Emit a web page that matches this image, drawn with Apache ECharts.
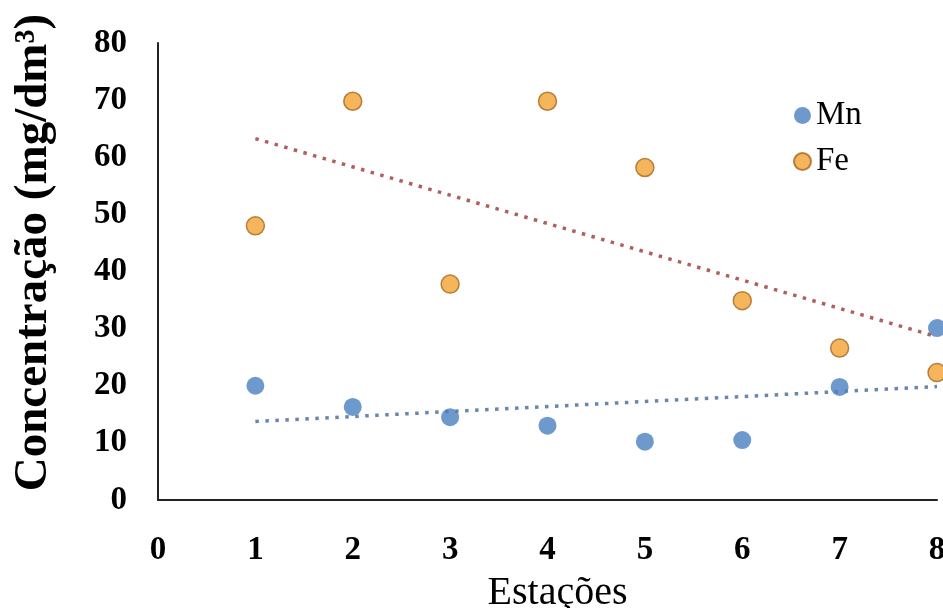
<!DOCTYPE html>
<html>
<head>
<meta charset="utf-8">
<title>Concentração de Mn e Fe por estação</title>
<script src="https://cdn.jsdelivr.net/npm/echarts@6/dist/echarts.min.js"></script>
<style>
  html, body { margin: 0; padding: 0; background: #ffffff; }
  #chart { width: 943px; height: 608px; }
</style>
</head>
<body>
<div id="chart"></div>
<script>
// Stations (x) and measured concentrations (mg/dm³)
const stations = [1, 2, 3, 4, 5, 6, 7, 8];
const mnValues = [20.0, 16.3, 14.5, 13.0, 10.2, 10.5, 19.8, 30.1];
const feValues = [48.0, 69.8, 37.8, 69.8, 58.2, 34.9, 26.6, 22.3];
const seriesNames = ['Mn', 'Fe'];
const xAxisTitle = 'Estações';
const yAxisTitle = 'Concentração (mg/dm³)';

// Least-squares linear trend, evaluated at the first and last station
function linearTrend(xs, ys) {
  const n = xs.length;
  const mx = xs.reduce((a, b) => a + b, 0) / n;
  const my = ys.reduce((a, b) => a + b, 0) / n;
  let sxy = 0, sxx = 0;
  for (let i = 0; i < n; i++) {
    sxy += (xs[i] - mx) * (ys[i] - my);
    sxx += (xs[i] - mx) * (xs[i] - mx);
  }
  const slope = sxy / sxx;
  const x0 = xs[0], x1 = xs[n - 1];
  return [[x0, my + slope * (x0 - mx)], [x1, my + slope * (x1 - mx)]];
}

const pairs = (xs, ys) => xs.map((x, i) => [x, ys[i]]);

const serif = 'Liberation Serif, Times New Roman, serif';
const chart = echarts.init(document.getElementById('chart'), null, { renderer: 'canvas' });

chart.setOption({
  backgroundColor: '#ffffff',
  animation: false,
  grid: { left: 158, right: 6, top: 43, bottom: 108, outerBoundsMode: 'none' },
  legend: {
    data: seriesNames,
    orient: 'vertical',
    left: 788,
    top: 94,
    itemWidth: 17,
    itemHeight: 17,
    itemGap: 13,
    icon: 'circle',
    textStyle: { fontFamily: serif, fontSize: 33, color: '#000' }
  },
  xAxis: {
    type: 'value',
    min: 0,
    max: 8,
    interval: 1,
    name: xAxisTitle,
    nameLocation: 'middle',
    nameGap: 73,
    nameTextStyle: { fontFamily: serif, fontSize: 40, color: '#000', padding: [0, 0, 0, 20] },
    axisLine: { show: true, lineStyle: { color: '#222', width: 2 } },
    axisTick: { show: false },
    splitLine: { show: false },
    axisLabel: {
      fontFamily: serif, fontSize: 33, fontWeight: 'bold', color: '#000',
      margin: 34, showMaxLabel: true, showMinLabel: true
    }
  },
  yAxis: {
    type: 'value',
    min: 0,
    max: 80,
    interval: 10,
    name: yAxisTitle,
    nameLocation: 'middle',
    nameGap: 101,
    nameRotate: 90,
    nameTextStyle: {
      fontFamily: serif, fontSize: 47, fontWeight: 'bold', color: '#000',
      padding: [0, 0, 0, 38]
    },
    axisLine: { show: true, lineStyle: { color: '#222', width: 2 } },
    axisTick: { show: false },
    splitLine: { show: false },
    axisLabel: { fontFamily: serif, fontSize: 33, fontWeight: 'bold', color: '#000', margin: 31 }
  },
  series: [
    {
      name: seriesNames[0],
      type: 'scatter',
      symbol: 'circle',
      symbolSize: 18,
      itemStyle: { color: '#4a7fc1' },
      data: pairs(stations, mnValues),
      z: 3
    },
    {
      name: seriesNames[1],
      type: 'scatter',
      symbol: 'circle',
      symbolSize: 18,
      itemStyle: { color: '#f3a332', borderColor: '#a8651f', borderWidth: 1.5 },
      data: pairs(stations, feValues),
      z: 3
    },
    {
      name: 'Mn trend',
      type: 'line',
      data: linearTrend(stations, mnValues),
      showSymbol: false,
      symbol: 'none',
      silent: true,
      lineStyle: { color: '#6a87aa', width: 3.5, type: [3.5, 6.5] },
      z: 2
    },
    {
      name: 'Fe trend',
      type: 'line',
      data: linearTrend(stations, feValues),
      showSymbol: false,
      symbol: 'none',
      silent: true,
      lineStyle: { color: '#b0605c', width: 3.5, type: [3.5, 6.5] },
      z: 2
    }
  ]
});
</script>
</body>
</html>
